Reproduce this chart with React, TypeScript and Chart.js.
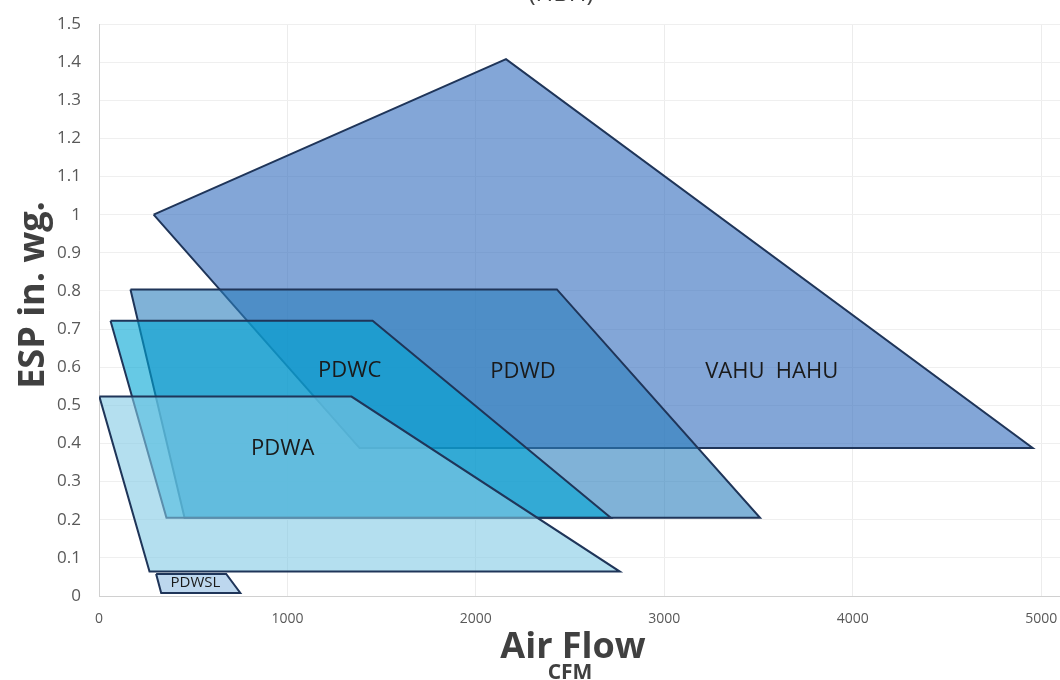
import React, { useEffect, useRef } from "react";
import { Chart, registerables } from "chart.js";

Chart.register(...registerables);

// ---- data ----
const seriesNames = ["VAHU  HAHU", "PDWD", "PDWC", "PDWA", "PDWSL"];

const vahuX = [290, 2160, 4955, 1383, 290];
const vahuY = [1.0, 1.408, 0.388, 0.388, 1.0];

const pdwdX = [167, 2430, 3508, 454, 167];
const pdwdY = [0.804, 0.804, 0.205, 0.205, 0.804];

const pdwcX = [61, 1452, 2716, 358, 61];
const pdwcY = [0.722, 0.722, 0.205, 0.205, 0.722];

const pdwaX = [2, 1340, 2764, 268, 2];
const pdwaY = [0.523, 0.523, 0.064, 0.064, 0.523];

const pdwslX = [303, 675, 750, 330, 303];
const pdwslY = [0.058, 0.058, 0.008, 0.008, 0.058];

const labelX = [3570, 2250, 1330, 975, 512];
const labelY = [0.588, 0.588, 0.592, 0.385, 0.034];

const xTickValues = [0, 1000, 2000, 3000, 4000, 5000];
const titleText = "(HBH)";
const xTitle = "Air Flow";
const xSubTitle = "CFM";
const yTitle = "ESP in. wg.";

const fills = [
  "rgba(55,112,190,0.62)",
  "rgba(43,127,188,0.6)",
  "rgba(0,165,212,0.6)",
  "rgba(130,202,228,0.6)",
  "rgba(189,215,238,1)",
];

const FONT = "'Open Sans', 'DejaVu Sans', sans-serif";

const toPts = (xs: number[], ys: number[]) => xs.map((v, i) => ({ x: v, y: ys[i] }));

const textPlugin = {
  id: "texts",
  afterDatasetsDraw(chart: any) {
    const { ctx, scales } = chart;
    const x = scales.x;
    const y = scales.y;
    ctx.save();
    ctx.fillStyle = "#1a1a1a";
    ctx.textAlign = "center";
    ctx.textBaseline = "middle";
    seriesNames.forEach((t, i) => {
      ctx.font = i === 4 ? `15px ${FONT}` : `22px ${FONT}`;
      ctx.fillText(t, x.getPixelForValue(labelX[i]), y.getPixelForValue(labelY[i]));
    });
    ctx.restore();
  },
  afterDraw(chart: any) {
    const { ctx } = chart;
    ctx.save();
    ctx.fillStyle = "#404040";
    ctx.textAlign = "center";
    ctx.textBaseline = "alphabetic";
    ctx.font = `24px ${FONT}`;
    ctx.fillText(titleText, 561, 1);
    ctx.font = `bold 36px ${FONT}`;
    ctx.fillText(xTitle, 573, 658);
    ctx.font = `bold 21px ${FONT}`;
    ctx.fillText(xSubTitle, 570, 679);
    ctx.translate(44, 295);
    ctx.rotate(-Math.PI / 2);
    ctx.font = `bold 36px ${FONT}`;
    ctx.fillText(yTitle, 0, 0);
    ctx.restore();
  },
};

export default function App() {
  const ref = useRef<HTMLCanvasElement | null>(null);

  useEffect(() => {
    if (!ref.current) return;
    const sets = [
      [vahuX, vahuY],
      [pdwdX, pdwdY],
      [pdwcX, pdwcY],
      [pdwaX, pdwaY],
      [pdwslX, pdwslY],
    ];
    const chart = new Chart(ref.current, {
      type: "scatter",
      data: {
        datasets: sets.map((s, i) => ({
          label: seriesNames[i],
          data: toPts(s[0], s[1]),
          showLine: true,
          fill: "shape",
          backgroundColor: fills[i],
          borderColor: "#1f3559",
          borderWidth: 2,
          pointRadius: 0,
          pointHoverRadius: 0,
          tension: 0,
          borderJoinStyle: "miter",
          order: 5 - i,
        })),
      },
      plugins: [textPlugin],
      options: {
        responsive: false,
        animation: false,
        events: [],
        layout: { padding: { top: 24, right: 0, left: 0, bottom: 0 } },
        plugins: {
          legend: { display: false },
          tooltip: { enabled: false },
          title: { display: false },
        },
        scales: {
          x: {
            type: "linear",
            min: 0,
            max: 5100,
            afterBuildTicks: (s: any) => {
              s.ticks = xTickValues.map((v) => ({ value: v }));
            },
            ticks: {
              stepSize: 1000,
              maxRotation: 0,
              padding: 0,
              color: "#595959",
              font: { family: FONT, size: 14 },
              callback: (v: any) => String(v),
            },
            grid: { color: "#ececec", drawTicks: true, tickLength: 15, tickColor: "rgba(0,0,0,0)" },
            border: { color: "#d0d0d0", width: 1 },
            afterFit: (s: any) => {
              s.height = 84;
            },
          },
          y: {
            type: "linear",
            min: 0,
            max: 1.5,
            ticks: {
              stepSize: 0.1,
              padding: 0,
              color: "#595959",
              font: { family: FONT, size: 17 },
              callback: (v: any) => String(Math.round(Number(v) * 10) / 10),
            },
            grid: { color: "#efefef", drawTicks: true, tickLength: 18, tickColor: "rgba(0,0,0,0)" },
            border: { color: "#d0d0d0", width: 1 },
            afterFit: (s: any) => {
              s.width = 99;
            },
          },
        },
      },
    });
    return () => chart.destroy();
  }, []);

  return (
    <div style={{ position: "fixed", left: 0, top: 0, width: 1060, height: 680, background: "#fff" }}>
      <canvas ref={ref} width={1060} height={680} style={{ width: 1060, height: 680, display: "block" }} />
    </div>
  );
}
